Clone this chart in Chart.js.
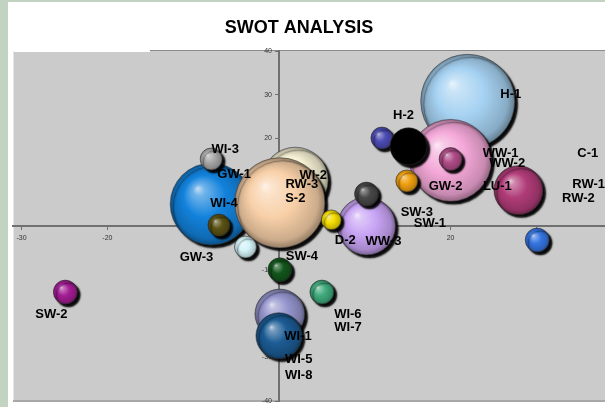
<!DOCTYPE html>
<html>
<head>
<meta charset="utf-8">
<script src="https://cdn.jsdelivr.net/npm/chart.js@4.4.1/dist/chart.umd.min.js"></script>
<style>
  html, body { margin: 0; padding: 0; background: #c2d3c2; }
  #wrap { position: absolute; left: 8px; top: 2px; width: 597px; height: 405px; background: #fff; }
</style>
</head>
<body>
<div id="wrap"><canvas id="swotChart"></canvas></div>
<script>
// points, in drawing order (later ones sit on top)
const names = ['H-1', 'GW-2', 'WW-1', '', 'H-2', 'SW-3', 'LU-1', 'WI-2', 'GW-1', 'WI-3', 'RW-3',
  'WI-4', 'GW-3', '', 'WW-3', '', 'D-2', 'SW-4', '', 'WI-1', 'WI-6', 'SW-2', '',
  'WW-2', 'C-1', 'RW-1', 'RW-2', 'SW-1', 'S-2', 'WI-7', 'WI-5', 'WI-8'];
const xVals = [22.0, 20.0, 20.0, 12.0, 15.1, 14.9, 27.9, 1.9, -7.9, -7.9, 0.1,
  -7.0, -3.9, 7.4, 10.2, 10.2, 6.1, 0.1, 0.1, 0.0, 5.0, -24.9, 30.1,
  26.6, 36.0, 36.1, 34.9, 17.6, 1.9, 8.05, 2.3, 2.3];
const yVals = [28.5, 15.0, 15.3, 20.1, 18.2, 10.3, 8.2, 10.5, 5.0, 15.3, 5.3,
  0.2, -4.8, 0.5, 0.0, 7.3, 1.4, -10.0, -20.1, -25.1, -15.1, -15.1, -3.2,
  14.4, 16.5, 9.6, 6.2, 0.7, 6.2, -23.1, -30.6, -34.1];
const sizes = [100, 76, 6, 5.5, 15.5, 5.5, 27, 49, 76, 5.5, 92,
  5.5, 5.5, 3.7, 38, 6.5, 4.5, 6.5, 28, 24, 6.5, 6.5, 6.5,
  0, 0, 0, 0, 0, 0, 0, 0, 0];

const xTicks = [-30, -20, -10, 0, 10, 20, 30];
const yTicks = [-40, -30, -20, -10, 0, 10, 20, 30, 40];

// styles
const colors = ['#a6d2f2', '#f4a8d8', '#b04c88', '#4c4cb4', '#000000', '#f0a010', '#b03c78', '#f6f2d4', '#1282dc', '#a8a8a8', '#f8d0a8',
  '#5a5214', '#d4f4f8', '#f2f0b0', '#c8a4f4', '#484848', '#f4dc00', '#12561c', '#9494cc', '#1c5c94', '#40aa7c', '#a41c94', '#3474e0',
  '#000', '#000', '#000', '#000', '#000', '#000', '#000', '#000', '#000'];
const labelDx = [43, -5, 50, 0, -5, 10, -21, 18, 23, 14, 22, 5, -49, 0, 17, 0, 14, 22, 0, 19, 26, -14, 0, 0, 0, 0, 0, 0, 0, 0, 0, 0];
const labelDy = [-7, 26, -6, 0, -31, 31, -4, -5, -30, -10, -18, -22, 10, 0, 15, 0, 21, -13, 0, 1, 22, 22, 0, 0, 0, 0, 0, 0, 0, 0, 0, 0];
const R_SCALE = 4.7;

function mix(hex, other, t) {
  const a = parseInt(hex.slice(1), 16), b = parseInt(other.slice(1), 16);
  const ch = (v, s) => (v >> s) & 255;
  const m = s => Math.round(ch(a, s) * (1 - t) + ch(b, s) * t);
  return 'rgb(' + m(16) + ',' + m(8) + ',' + m(0) + ')';
}

function shade(ctx) {
  const i = ctx.dataIndex, chart = ctx.chart;
  const col = colors[i];
  if (col === '#000000' || !chart.chartArea) return col;
  const cx = chart.scales.x.getPixelForValue(xVals[i]);
  const cy = chart.scales.y.getPixelForValue(yVals[i]);
  const r = Math.max(R_SCALE * Math.sqrt(sizes[i]), 1);
  if (!isFinite(cx) || !isFinite(cy)) return col;
  const g = chart.ctx.createRadialGradient(cx - r * 0.33, cy - r * 0.38, r * 0.02, cx, cy, r);
  g.addColorStop(0, mix(col, '#ffffff', 0.7));
  g.addColorStop(0.12, mix(col, '#ffffff', 0.4));
  g.addColorStop(0.5, col);
  g.addColorStop(0.88, mix(col, '#000000', 0.18));
  g.addColorStop(1, mix(col, '#000000', 0.4));
  return g;
}

const points = names.map((n, i) => ({ x: xVals[i], y: yVals[i], r: R_SCALE * Math.sqrt(sizes[i]) }));

const plotBack = {
  id: 'plotBack',
  beforeDraw(chart) {
    const { ctx, chartArea: a } = chart;
    ctx.save();
    ctx.fillStyle = '#cbcbcb';
    ctx.fillRect(a.left, a.top, a.right - a.left, a.bottom - a.top);
    ctx.fillStyle = '#fff';
    ctx.fillRect(a.left, a.top - 1, 137, 2);
    ctx.fillStyle = '#e6e6e6';
    ctx.fillRect(a.left, a.top, 1, a.bottom - a.top);
    ctx.fillStyle = '#a8a8a8';
    ctx.fillRect(a.left, a.bottom - 1, a.right - a.left, 2);
    ctx.fillStyle = '#8a8a8a';
    ctx.fillRect(142, a.top - 1, a.right - 142, 1);
    // title
    ctx.fillStyle = '#000';
    ctx.font = 'bold 18px Arial, "Liberation Sans", sans-serif';
    ctx.textAlign = 'center';
    ctx.textBaseline = 'middle';
    ctx.fillText('SWOT ANALYSIS', 291, 26);
    ctx.restore();
  }
};

const bubbleLook = {
  id: 'bubbleLook',
  beforeDatasetsDraw(chart) {
    const c = chart.ctx;
    c.save();
    c.shadowColor = 'rgba(0,0,0,0.95)';
    c.shadowOffsetX = 3;
    c.shadowOffsetY = 3;
    c.shadowBlur = 1.5;
  },
  afterDatasetsDraw(chart) {
    const c = chart.ctx;
    c.restore();
    const meta = chart.getDatasetMeta(0);
    c.save();
    c.fillStyle = '#000';
    c.font = 'bold 13px Arial, "Liberation Sans", sans-serif';
    c.textAlign = 'center';
    c.textBaseline = 'middle';
    meta.data.forEach((el, i) => {
      if (!names[i]) return;
      c.fillText(names[i], el.x + labelDx[i], el.y + labelDy[i]);
    });
    c.restore();
  }
};

// centred axes should not eat into the plot area
function noRoom(s) {
  if (s.isHorizontal()) s.height = 0; else s.width = 0;
  s.paddingLeft = s.paddingRight = s.paddingTop = s.paddingBottom = 0;
}

const axisLook = {
  z: 1,
  border: { color: '#707070', width: 2 },
  grid: { display: true, drawOnChartArea: false, tickLength: 3, color: '#707070', lineWidth: 1 },
  afterFit: noRoom
};

new Chart(document.getElementById('swotChart'), {
  type: 'bubble',
  data: {
    datasets: [{
      label: 'SWOT',
      data: points,
      backgroundColor: shade,
      borderColor: 'rgba(50,50,50,0.55)',
      borderWidth: 1,
      radius: 0
    }]
  },
  options: {
    responsive: true,
    maintainAspectRatio: false,
    animation: false,
    events: [],
    layout: { autoPadding: false, padding: { left: 5, right: 0, top: 49, bottom: 6 } },
    plugins: {
      legend: { display: false },
      title: { display: false },
      tooltip: { enabled: false }
    },
    scales: {
      x: {
        ...axisLook,
        type: 'linear',
        min: -31,
        max: 38,
        position: { y: 0 },
        afterBuildTicks: s => { s.ticks = xTicks.map(v => ({ value: v })); },
        ticks: { autoSkip: false, maxRotation: 0, padding: 5, color: '#333', font: { size: 7, family: 'Arial' } }
      },
      y: {
        ...axisLook,
        type: 'linear',
        min: -40,
        max: 40,
        position: { x: 0 },
        afterBuildTicks: s => { s.ticks = yTicks.map(v => ({ value: v })); },
        // centred y labels sit right on the axis, so push them left a bit
        ticks: { autoSkip: false, padding: 4, color: '#333', font: { size: 7, family: 'Arial' },
          callback: v => v + '\u2002\u2002' }
      }
    }
  },
  plugins: [plotBack, bubbleLook]
});
</script>
</body>
</html>
